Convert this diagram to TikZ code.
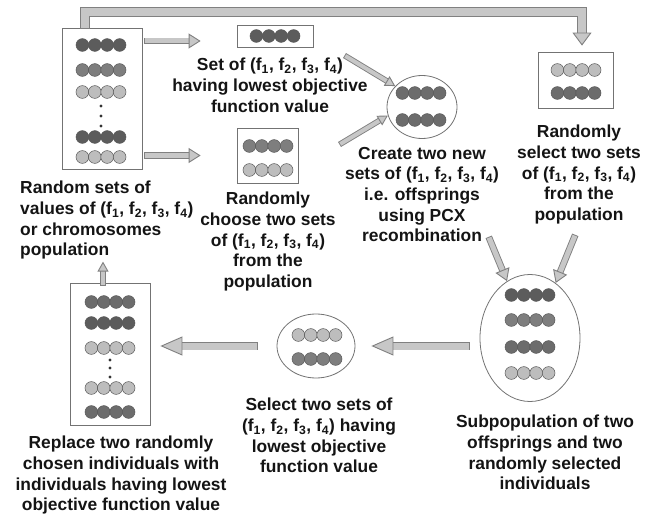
\documentclass[tikz,border=0pt]{standalone}
\usepackage{fontspec}
\setmainfont{Liberation Sans}
\usetikzlibrary{arrows.meta,positioning,shapes.geometric,calc}

\definecolor{gdark}{HTML}{5C5C5C}
\definecolor{gdm}{HTML}{6C6C6C}
\definecolor{gmid}{HTML}{7E7E7E}
\definecolor{glight}{HTML}{BDBDBD}

\newcommand{\fset}{(f\textsubscript{1}, f\textsubscript{2}, f\textsubscript{3}, f\textsubscript{4})}
% one row of four genes, centred at (#1,#2)
\newcommand{\genes}[3]{%
  \foreach \k in {0,...,3}
    \draw[gene, fill=#3] ({#1+(\k-1.5)*12.4},#2) circle (6.4pt);%
}

\begin{document}
\begin{tikzpicture}[x=1pt,y=-1pt]
  \tikzstyle{box} = [draw=black!55, line width=0.8pt, inner sep=0pt]
  \tikzstyle{oval} = [box, ellipse]
  \tikzstyle{gene} = [draw=black!65, line width=0.5pt]
  \tikzstyle{lab} = [align=center, inner sep=0pt, text=black!92, font=\bfseries\fontsize{17.4}{20.6}\selectfont]
  \tikzstyle{fat} = [draw=black!50, line width=0.9pt, line cap=rect, double=black!22, double distance=5pt, -{Triangle[length=12pt,width=15pt,fill=black!22]}]
  \tikzstyle{fatthin} = [fat, double distance=4pt, -{Triangle[length=10pt,width=11pt,fill=black!22]}]
  \tikzstyle{fatbig} = [fat, double distance=7pt, -{Triangle[length=22pt,width=19pt,fill=black!22]}]
  \tikzstyle{fattop} = [fat, double distance=7.5pt, -{Triangle[length=13pt,width=19pt,fill=black!22]}]
  \useasboundingbox (0,0) rectangle (659,519);

  % population
  \node[box, minimum width=80pt, minimum height=141pt] (pop) at (102,98.5) {};
  \genes{101}{45}{gdark} \genes{101}{70}{gmid} \genes{101}{92}{glight}
  \genes{101}{137}{gdark} \genes{101}{157}{glight}
  \foreach \y in {106,116,126} \fill[black!80] (101,\y) circle (1.6pt);
  \node[lab, anchor=north west, align=left] (popLab) at (20,181) {Random sets of\\values of \fset\\or chromosomes\\population};

  % best set and the two chosen sets
  \node[box, minimum width=76pt, minimum height=22pt] (topset) at (275,36) {};
  \genes{275}{36}{gdark}
  \node[lab, anchor=north] (topLab) at (270,58) {Set of \fset\\having lowest objective\\function value};

  \node[box, minimum width=61pt, minimum height=55pt] (choose) at (267.5,155.5) {};
  \genes{268}{146}{gmid} \genes{268}{170}{glight}
  \node[lab, anchor=north] (chooseLab) at (268,192) {Randomly\\choose two sets\\of \fset\\from the\\population};

  % offsprings
  \node[oval, minimum width=70pt, minimum height=63pt] (offs) at (422,107) {};
  \genes{421}{93}{gdm} \genes{421}{120}{gdm}
  \node[lab, anchor=north] (offsLab) at (422,147) {Create two new\\sets of \fset\\i.e. offsprings\\using PCX\\recombination};

  \node[box, minimum width=75pt, minimum height=56pt] (randsel) at (575.5,80) {};
  \genes{576}{70}{glight} \genes{576}{93}{gdm}
  \node[lab, anchor=north] (randselLab) at (579,125) {Randomly\\select two sets\\of \fset\\from the\\population};

  % subpopulation
  \node[oval, minimum width=100pt, minimum height=127pt] (subpop) at (530,338) {};
  \genes{530}{295}{gdark} \genes{530}{320}{gmid} \genes{530}{347}{gdm} \genes{530}{373}{glight}
  \node[lab, anchor=north] (subLab) at (545,415) {Subpopulation of two\\offsprings and two\\randomly selected\\individuals};

  \node[oval, minimum width=78pt, minimum height=64pt] (sel) at (316,346) {};
  \genes{317}{335}{glight} \genes{317}{359}{gmid}
  \node[lab, anchor=north] (selLab) at (319,398) {Select two sets of\\\fset{} having\\lowest objective\\function value};

  % new population
  \node[box, minimum width=80pt, minimum height=142pt] (repl) at (110,354) {};
  \genes{110}{302}{gdm} \genes{110}{323}{gdark} \genes{110}{348}{glight}
  \genes{110}{388}{glight} \genes{110}{412}{gdm}
  \foreach \y in {360,368,377} \fill[black!80] (110,\y) circle (1.6pt);
  \node[lab, anchor=north] (replLab) at (121,436) {Replace two randomly\\chosen individuals with\\individuals having lowest\\objective function value};

  % arrows
  \coordinate (fromTop) at (347,57);
  \coordinate (fromChoose) at (342,143);
  \coordinate (fromOffs) at (490,240);
  \coordinate (fromRand) at (574,238);
  \draw[fat] ([xshift=5pt,yshift=-5pt]pop.east |- topset) -- ([xshift=-36pt,yshift=-5pt]topset.west);
  \draw[fat] ([xshift=5pt]pop.east |- choose) -- ([xshift=-36pt]choose.west);
  \draw[fatthin] (fromTop) -- (offs.142);
  \draw[fatthin] (fromChoose) -- (offs.194);
  \draw[fat] (fromOffs) -- (subpop.112);
  \draw[fat] (fromRand) -- (subpop.65);
  \draw[fatbig] ([xshift=-14pt]subpop.west |- sel) -- ([xshift=16pt]sel.east);
  \draw[fatbig] ([xshift=-23pt]sel.west) -- ([xshift=10pt]repl.east |- sel);
  \draw[fatthin] ([xshift=-7pt]repl.north) -- ([xshift=-7pt,yshift=21pt]repl.north);
  % back to the population
  \draw[fattop] ([xshift=-17pt,yshift=3pt]pop.north) -- ++(0,-12.5) -| ([xshift=6.5pt,yshift=6pt]randsel.north);
\end{tikzpicture}
\end{document}
